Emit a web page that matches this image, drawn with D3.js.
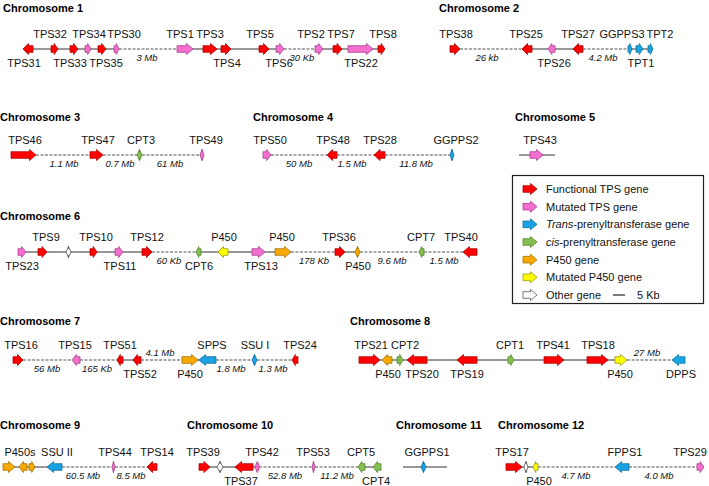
<!DOCTYPE html>
<html>
<head>
<meta charset="utf-8">
<script src="https://cdn.jsdelivr.net/npm/d3@7"></script>
<style>
  body { margin: 0; background: #fff; }
  text { font-family: "Liberation Sans", Arial, sans-serif; }
</style>
</head>
<body>
<div id="chart"></div>
<script>
// gene records: [label, start, end, type, strand, label side, label centre]
// positions are in map units along each track
const chr1Genes = [
  ["TPS31", 23, 33, "F", -1, "b", 24], ["TPS32", 51, 58, "F", 1, "a", 50],
  ["TPS33", 70, 78, "F", 1, "b", 70], ["TPS34", 85, 91, "M", 1, "a", 89],
  ["TPS35", 98, 106, "F", 1, "b", 106], ["TPS30", 114, 119, "M", 1, "a", 124],
  ["TPS1", 177, 193, "M", 1, "a", 180], ["TPS3", 203, 217, "F", 1, "a", 210],
  ["TPS4", 221, 231, "F", 1, "b", 227], ["TPS5", 259, 269, "F", 1, "a", 260],
  ["TPS6", 276, 284, "M", 1, "b", 279], ["TPS2", 315, 323, "M", 1, "a", 311],
  ["TPS7", 333, 342, "F", 1, "a", 341], ["TPS22", 348, 373, "M", 1, "b", 361],
  ["TPS8", 378, 385, "F", 1, "a", 383]
];
const chr1Links = [[23, 119, "s"], [119, 177, "d", "3 Mb", 147], [177, 284, "s"],
  [284, 315, "d", "30 Kb", 302], [315, 385, "s"]];

const chr2Genes = [
  ["TPS38", 450, 460, "F", 1, "a", 456], ["TPS25", 522, 532, "F", -1, "a", 526],
  ["TPS26", 548, 555, "M", -1, "b", 554], ["TPS27", 573, 583, "F", -1, "a", 578],
  ["GGPPS3", 628, 632, "T", 1, "a", 622], ["TPT1", 636, 643, "T", 1, "b", 641],
  ["TPT2", 648, 653, "T", 1, "a", 660]
];
const chr2Links = [[460, 522, "d", "26 kb", 487], [522, 583, "s"],
  [583, 628, "d", "4.2 Mb", 603], [628, 653, "s"]];

const chr3Genes = [
  ["TPS46", 11, 36, "F", 1, "a", 25], ["TPS47", 90, 103, "F", 1, "a", 98],
  ["CPT3", 137, 142, "C", 0, "a", 141], ["TPS49", 200, 204, "M", 0, "a", 206]
];
const chr3Links = [[36, 90, "d", "1.1 Mb", 64], [103, 137, "d", "0.7 Mb", 120],
  [142, 200, "d", "61 Mb", 170]];

const chr4Genes = [
  ["TPS50", 263, 271, "M", 1, "a", 270], ["TPS48", 327, 337, "F", -1, "a", 333],
  ["TPS28", 374, 385, "F", -1, "a", 380], ["GGPPS2", 450, 454, "T", 0, "a", 456]
];
const chr4Links = [[271, 327, "d", "50 Mb", 299], [337, 374, "d", "1.5 Mb", 352],
  [385, 450, "d", "11.8 Mb", 416]];

const chr5Genes = [["TPS43", 530, 543, "M", 1, "a", 540]];
const chr5Links = [[519, 555, "s"]];

const chr6Genes = [
  ["TPS23", 18, 26, "M", 1, "b", 22], ["TPS9", 38, 47, "F", 1, "a", 46],
  ["", 66, 71, "O", 0, "a", 0], ["TPS10", 90, 97, "F", 1, "a", 96],
  ["TPS11", 115, 123, "M", 1, "b", 120], ["TPS12", 142, 152, "F", 1, "a", 147],
  ["CPT6", 196, 201, "C", -1, "b", 199], ["P450", 218, 228, "Y", -1, "a", 224],
  ["TPS13", 252, 265, "M", 1, "b", 261], ["P450", 275, 291, "P", 1, "a", 282],
  ["TPS36", 335, 345, "F", 1, "a", 339], ["P450", 355, 360, "P", 0, "b", 358],
  ["CPT7", 419, 424, "C", -1, "a", 421], ["TPS40", 463, 477, "F", -1, "a", 461]
];
const chr6Links = [[18, 152, "s"], [152, 197, "d", "60 Kb", 169], [197, 291, "s"],
  [291, 335, "d", "178 Kb", 314], [335, 360, "s"], [360, 419, "d", "9.6 Mb", 392],
  [424, 463, "d", "1.5 Mb", 444]];

const chr7Genes = [
  ["TPS16", 13, 23, "F", 1, "a", 21], ["TPS15", 72, 80, "M", -1, "a", 75],
  ["TPS51", 117, 123, "F", -1, "a", 120], ["TPS52", 133, 141, "F", -1, "b", 140],
  ["P450", 182, 198, "P", 1, "b", 190], ["SPPS", 199, 216, "T", -1, "a", 212],
  ["SSU I", 252, 257, "T", 0, "a", 255], ["TPS24", 292, 298, "F", -1, "a", 300]
];
const chr7Links = [[23, 72, "d", "56 Mb", 47], [80, 117, "d", "165 Kb", 97],
  [117, 141, "s"], [141, 182, "d", "4.1 Mb", 160, "a"], [182, 216, "s"],
  [216, 252, "d", "1.8 Mb", 231], [257, 292, "d", "1.3 Mb", 273]];

const chr8Genes = [
  ["TPS21", 359, 380, "F", 1, "a", 371], ["P450", 382, 392, "P", -1, "b", 388],
  ["CPT2", 397, 403, "C", 1, "a", 405], ["TPS20", 407, 427, "F", -1, "b", 422],
  ["TPS19", 457, 477, "F", -1, "b", 467], ["CPT1", 508, 514, "C", 1, "a", 510],
  ["TPS41", 544, 564, "F", 1, "a", 553], ["TPS18", 587, 608, "F", 1, "a", 598],
  ["P450", 615, 627, "Y", 1, "b", 620], ["DPPS", 672, 685, "T", -1, "b", 681]
];
const chr8Links = [[359, 627, "s"], [627, 672, "d", "27 Mb", 647, "a"]];

const chr9Genes = [
  ["P450s", 3, 15, "P", 1, "a", 20], ["", 19, 27, "P", -1, "a", 0],
  ["", 29, 35, "P", 1, "a", 0], ["SSU II", 47, 62, "T", -1, "a", 57],
  ["TPS44", 112, 115, "M", 0, "a", 115], ["TPS14", 147, 157, "F", -1, "a", 157]
];
const chr9Links = [[3, 62, "s"], [62, 112, "d", "60.5 Mb", 83],
  [115, 147, "d", "8.5 Mb", 131]];

const chr10Genes = [
  ["TPS39", 199, 210, "F", 1, "a", 203], ["", 217, 223, "O", 0, "a", 0],
  ["TPS37", 235, 253, "F", -1, "b", 241], ["TPS42", 255, 259, "M", -1, "a", 262],
  ["TPS53", 312, 315, "M", 0, "a", 313], ["CPT5", 358, 365, "C", -1, "a", 361],
  ["CPT4", 373, 381, "C", -1, "b", 376]
];
const chr10Links = [[199, 259, "s"], [259, 312, "d", "52.8 Mb", 285],
  [315, 358, "d", "11.2 Mb", 337], [358, 381, "s"]];

const chr11Genes = [["GGPPS1", 421, 426, "T", 0, "a", 427]];
const chr11Links = [[403, 447, "s"]];

const chr12Genes = [
  ["TPS17", 506, 522, "F", 1, "a", 512], ["", 524, 528, "O", 0, "a", 0],
  ["P450", 533, 538, "Y", -1, "b", 539], ["FPPS1", 615, 629, "T", -1, "a", 625],
  ["TPS29", 697, 704, "M", 1, "a", 690]
];
const chr12Links = [[506, 538, "s"], [538, 615, "d", "4.7 Mb", 576],
  [629, 698, "d", "4.0 Mb", 659]];

const chromosomeNames = ["Chromosome 1", "Chromosome 2", "Chromosome 3", "Chromosome 4",
  "Chromosome 5", "Chromosome 6", "Chromosome 7", "Chromosome 8", "Chromosome 9",
  "Chromosome 10", "Chromosome 11", "Chromosome 12"];
const legendTypes = ["F", "M", "T", "C", "P", "Y", "O"];
const legendLabels = ["Functional TPS gene", "Mutated TPS gene", "Trans-prenyltransferase gene",
  "cis-prenyltransferase gene", "P450 gene", "Mutated P450 gene", "Other gene"];

// ---- layout / style ----
const W = 709, H = 486;
const fills = { F: "#ff0000", M: "#f46fd0", T: "#1aa3e3", C: "#83bf4f", P: "#f7aa00", Y: "#ffff00", O: "#ffffff" };
const strokes = { F: "#b00000", M: "#a8408e", T: "#10709e", C: "#55862d", P: "#a87200", Y: "#9a9a00", O: "#555555" };

// per chromosome: genes, links, row, title x
const chromosomes = [
  [chr1Genes, chr1Links, 0, 3], [chr2Genes, chr2Links, 0, 439],
  [chr3Genes, chr3Links, 1, 0], [chr4Genes, chr4Links, 1, 253], [chr5Genes, chr5Links, 1, 515],
  [chr6Genes, chr6Links, 2, 0],
  [chr7Genes, chr7Links, 3, 0], [chr8Genes, chr8Links, 3, 350],
  [chr9Genes, chr9Links, 4, 0], [chr10Genes, chr10Links, 4, 187],
  [chr11Genes, chr11Links, 4, 396], [chr12Genes, chr12Links, 4, 498]
];
const rowTrack = [49, 155, 252, 360, 467];
const rowTitle = [8, 117, 216, 321, 425];

const x = d3.scaleLinear().domain([0, W]).range([0, W]);

const svg = d3.select("#chart").append("svg")
  .attr("width", W).attr("height", H);

function arrowPath(x0, x1, y, dir) {
  const L = x1 - x0, bh = 3.3, hh = 5.5;
  if (dir === 0) {
    const h = Math.min(3, L / 2);
    return `M${x0},${y} L${x0 + h},${y - hh} L${x0 + h},${y - bh} L${x1 - h},${y - bh} L${x1 - h},${y - hh}` +
      ` L${x1},${y} L${x1 - h},${y + hh} L${x1 - h},${y + bh} L${x0 + h},${y + bh} L${x0 + h},${y + hh} Z`;
  }
  const h = Math.min(6.5, L * 0.55);
  if (dir > 0) {
    return `M${x0},${y - bh} L${x1 - h},${y - bh} L${x1 - h},${y - hh} L${x1},${y} L${x1 - h},${y + hh}` +
      ` L${x1 - h},${y + bh} L${x0},${y + bh} Z`;
  }
  return `M${x1},${y - bh} L${x0 + h},${y - bh} L${x0 + h},${y - hh} L${x0},${y} L${x0 + h},${y + hh}` +
    ` L${x0 + h},${y + bh} L${x1},${y + bh} Z`;
}

chromosomes.forEach(function(c, i) {
  const genes = c[0], links = c[1], y = rowTrack[c[2]];
  const g = svg.append("g");

  g.append("text")
    .attr("x", c[3]).attr("y", rowTitle[c[2]] + 4)
    .attr("font-size", 11).attr("font-weight", "bold")
    .text(chromosomeNames[i]);

  g.selectAll(".link").data(links).enter().append("line")
    .attr("x1", d => x(d[0])).attr("x2", d => x(d[1]))
    .attr("y1", y).attr("y2", y)
    .attr("stroke", d => d[2] === "d" ? "#555" : "#333")
    .attr("stroke-width", d => d[2] === "d" ? 1.2 : 1)
    .attr("stroke-dasharray", d => d[2] === "d" ? "3,1.5" : null);

  g.selectAll(".dist").data(links.filter(d => d[3])).enter().append("text")
    .attr("x", d => x(d[4])).attr("y", d => d[5] === "a" ? y - 8 + 3.5 : y + 8 + 3.5)
    .attr("text-anchor", "middle").attr("font-size", 9.5).attr("font-style", "italic")
    .attr("fill", "#111")
    .text(d => d[3]);

  g.selectAll(".gene").data(genes).enter().append("path")
    .attr("d", d => arrowPath(x(d[1]), x(d[2]), y, d[4]))
    .attr("fill", d => fills[d[3]])
    .attr("stroke", d => strokes[d[3]])
    .attr("stroke-width", 0.8);

  g.selectAll(".glabel").data(genes.filter(d => d[0])).enter().append("text")
    .attr("x", d => x(d[6])).attr("y", d => d[5] === "a" ? y - 15 + 4 : y + 14 + 4)
    .attr("text-anchor", "middle").attr("font-size", 11).attr("fill", "#111")
    .text(d => d[0]);
});

// legend
const legend = svg.append("g");
legend.append("rect")
  .attr("x", 512.5).attr("y", 175.5).attr("width", 191).attr("height", 128)
  .attr("fill", "#fff").attr("stroke", "#222").attr("stroke-width", 1.2);

const ly = d3.scalePoint().domain(legendTypes).range([189, 295]);
const items = legend.selectAll(".item").data(legendTypes).enter().append("g");
items.append("path")
  .attr("d", t => arrowPath(523, 537, ly(t), 1))
  .attr("fill", t => fills[t]).attr("stroke", t => strokes[t]).attr("stroke-width", 0.8);
items.append("text")
  .attr("x", 546).attr("y", t => ly(t) + 4)
  .attr("font-size", 11).attr("fill", "#111")
  .each(function(t, i) {
    const lab = legendLabels[i], el = d3.select(this);
    if (t === "T" || t === "C") {
      const k = lab.indexOf("-");
      el.append("tspan").attr("font-style", "italic").text(lab.slice(0, k));
      el.append("tspan").text(lab.slice(k));
    } else {
      el.text(lab);
    }
  });
// 5 Kb scale bar
legend.append("line")
  .attr("x1", 613).attr("x2", 625).attr("y1", ly("O")).attr("y2", ly("O"))
  .attr("stroke", "#222").attr("stroke-width", 1.2);
legend.append("text")
  .attr("x", 637).attr("y", ly("O") + 4).attr("font-size", 11).attr("fill", "#111")
  .text("5 Kb");
</script>
</body>
</html>
